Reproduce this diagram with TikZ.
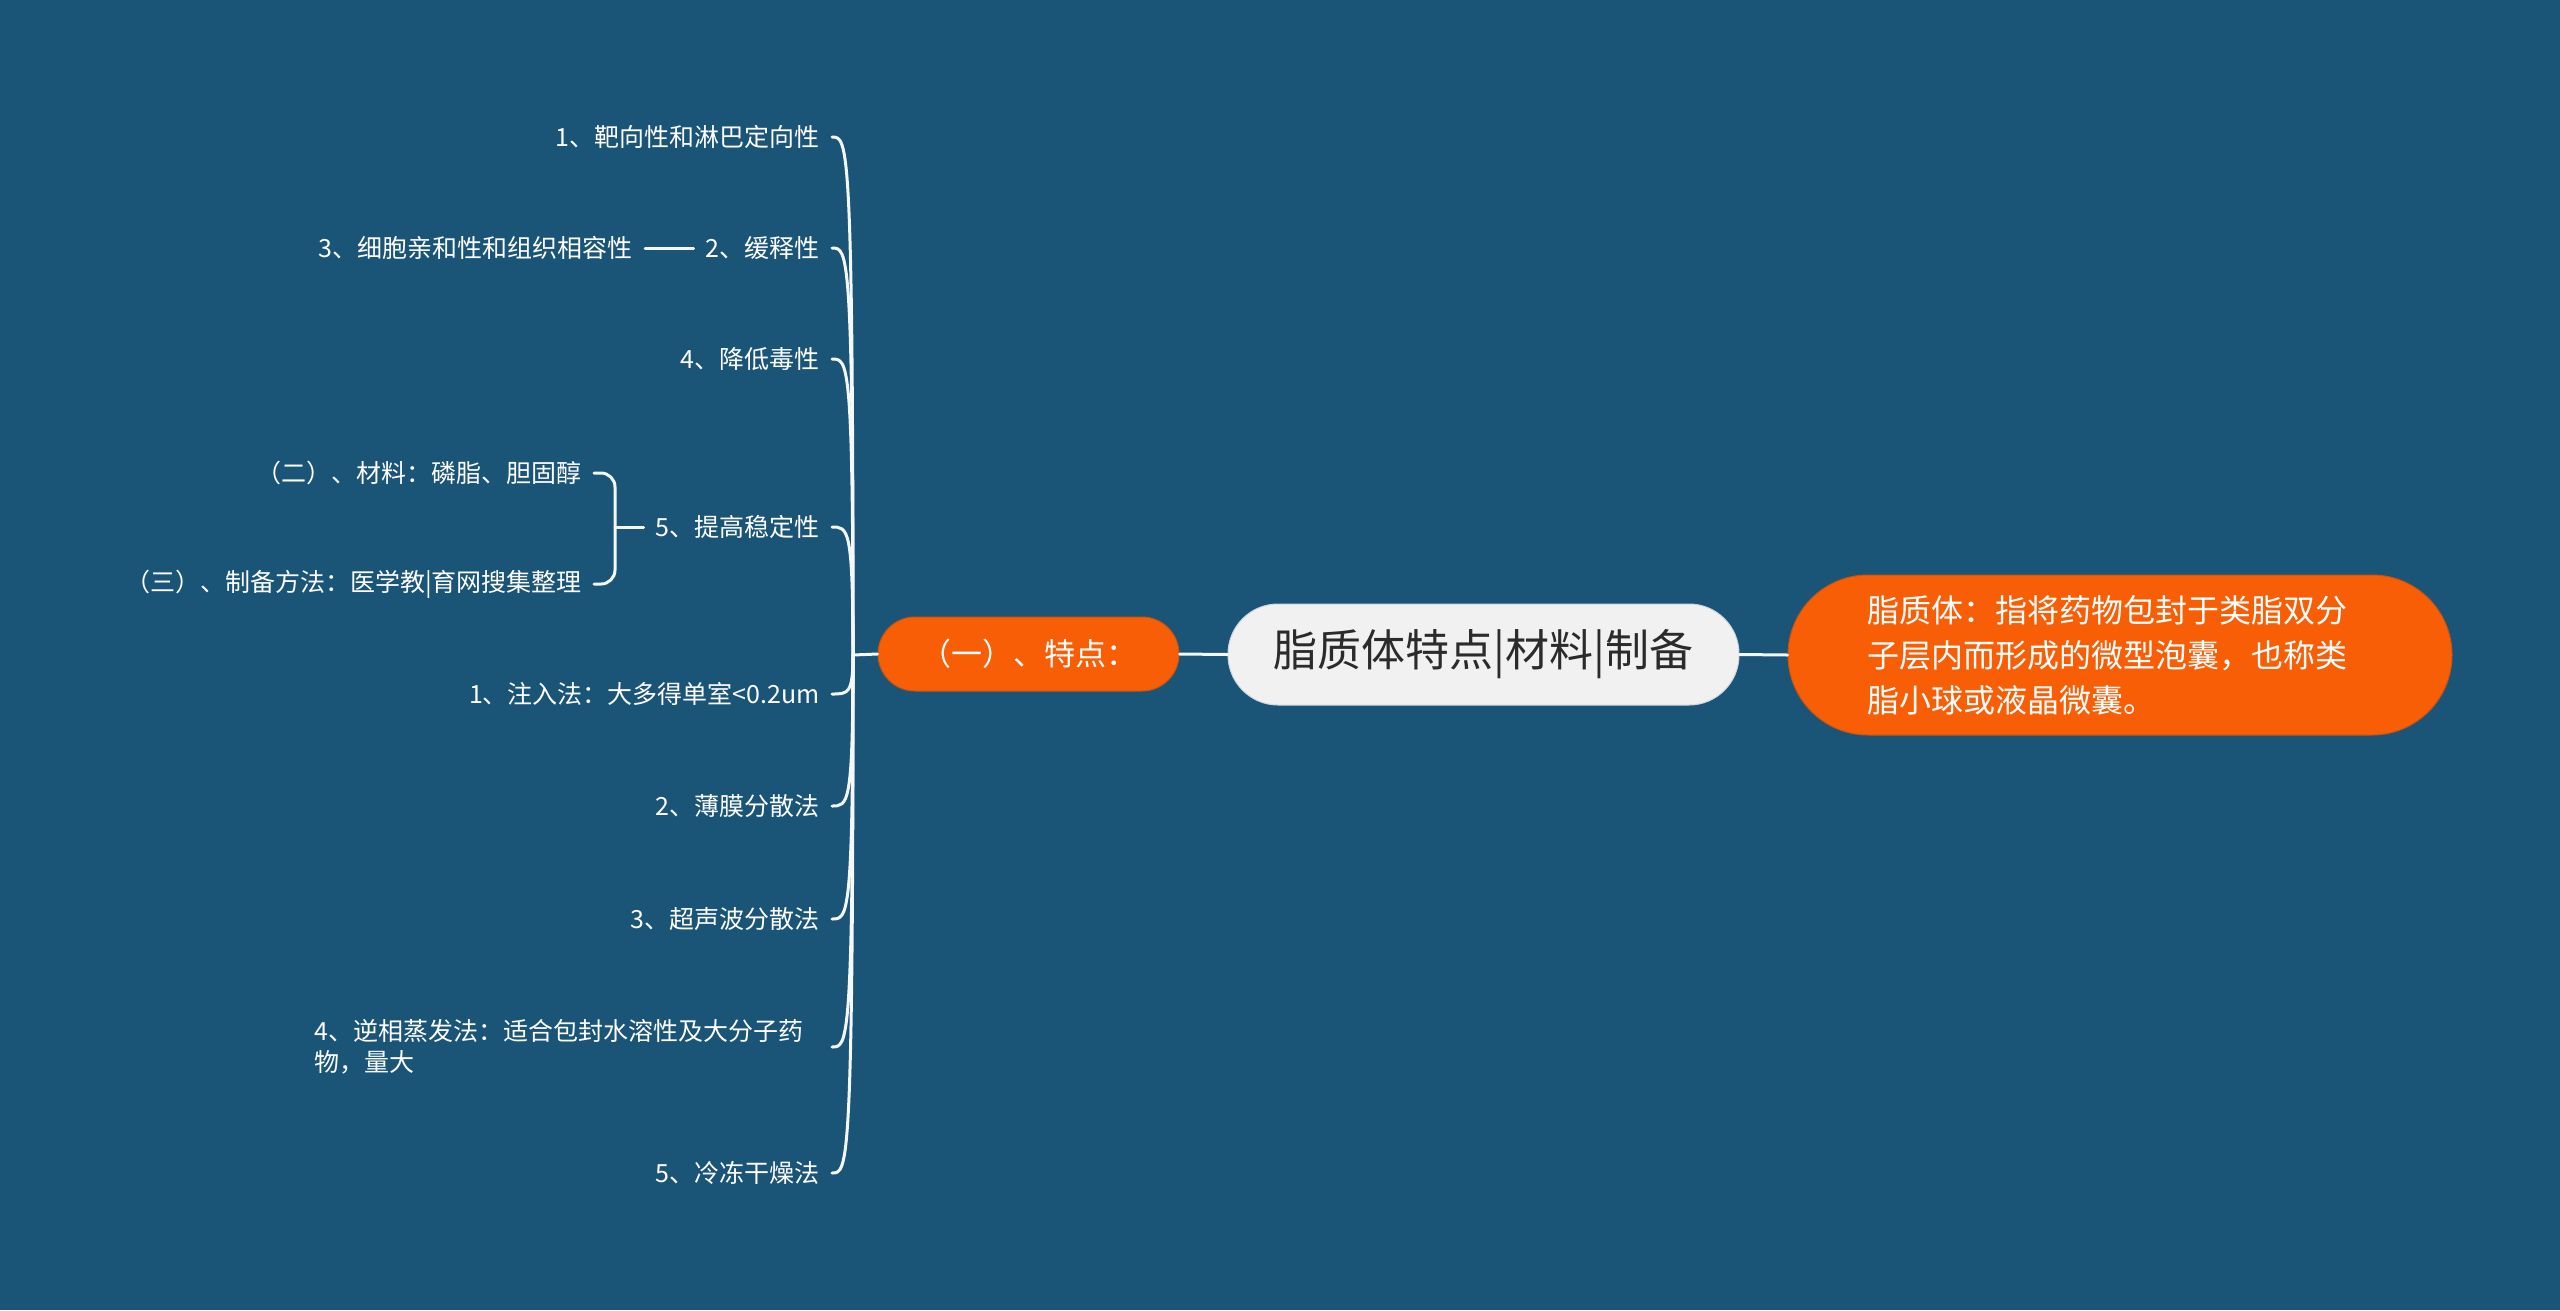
\documentclass[tikz,border=0pt]{standalone}
\usepackage{fontspec}
\setmainfont{Noto Sans CJK SC}
\usetikzlibrary{calc}

\begin{document}
\begin{tikzpicture}[
    x=1pt, y=-1pt,
    line join=round,
    line cap=round,
    branch/.style={line width=3pt, linkwhite},
    leaf/.style={font=\fontsize{25}{31}\selectfont, text=white, anchor=east,
        inner xsep=12pt, inner ysep=4pt, align=left},
    rootnode/.style={fill=paleglass, draw=paleedge, line width=1pt,
        rounded corners=50pt, minimum width=511pt, minimum height=101pt,
        font=\fontsize{44}{52}\selectfont, text=inkgray},
    topic/.style={fill=hotorange, draw=burnedge, line width=1pt,
        rounded corners=37pt, minimum width=301pt, minimum height=74pt,
        font=\fontsize{31}{36}\selectfont, text=white},
    descnode/.style={fill=hotorange, draw=burnedge, line width=1pt,
        rounded corners=80pt, minimum width=664pt, minimum height=160pt,
        text width=505pt, align=left,
        font=\fontsize{32}{45}\selectfont, text=white}
]

% -------------------------------------------------
% Palette
% -------------------------------------------------
\definecolor{bgblue}{HTML}{1A5477}     % page background
\definecolor{linkwhite}{HTML}{F4F8FB}  % connectors
\definecolor{hotorange}{HTML}{F75E06}  % topic fill
\definecolor{burnedge}{HTML}{C9540E}   % topic border
\definecolor{paleglass}{HTML}{F1F1F1}  % root fill
\definecolor{paleedge}{HTML}{D0D6DA}   % root border
\definecolor{inkgray}{HTML}{2B2B2B}    % root text

\useasboundingbox (0,0) rectangle (2560,1310);
\path[fill=bgblue] (0,0) rectangle (2560,1310);

% -------------------------------------------------
% Centre and right side
% -------------------------------------------------
\node[rootnode] (root) at (1483.5,654.5) {脂质体特点|材料|制备};
\node[topic] (one) at (1028.5,654) {（一）、特点：};
\node[descnode] (desc) at (2120,655)
{脂质体：指将药物包封于类脂双分\\子层内而形成的微型泡囊，也称类\\脂小球或液晶微囊。};

\draw[branch] (one.east) -- (root.west);
\draw[branch] (root.east) -- (desc.west);

% -------------------------------------------------
% Left children
% -------------------------------------------------
\coordinate (hub) at (853,655);
\draw[branch] (one.west) -- (hub);

\node[leaf] (c1) at (832,137) {1、靶向性和淋巴定向性};
\node[leaf] (c2) at (832,248) {2、缓释性};
\node[leaf] (c3) at (832,359) {4、降低毒性};
\node[leaf] (c4) at (832,527) {5、提高稳定性};
\node[leaf] (c5) at (832,694) {1、注入法：大多得单室<0.2um};
\node[leaf] (c6) at (832,806) {2、薄膜分散法};
\node[leaf] (c7) at (832,919) {3、超声波分散法};
\node[leaf, text width=505pt] (c8) at (832,1047)
{4、逆相蒸发法：适合包封水溶性及大分子药\\物，量大};
\node[leaf] (c9) at (832,1173) {5、冷冻干燥法};

\foreach \c in {c1,c2,c3,c4,c5,c6,c7,c8,c9} {
    \draw[branch] (hub)
        .. controls (hub |- \c.east) and ($(hub |- \c.east)+(-5,0)$) ..
        (\c.east);
}

% Side note of 2
\node[leaf] (n3) at (645,248) {3、细胞亲和性和组织相容性};
\draw[branch] (c2.west) -- (n3.east);

% Bracket of 5
\node[leaf] (s1) at (594,473) {（二）、材料：磷脂、胆固醇};
\node[leaf] (s2) at (594,584) {（三）、制备方法：医学教|育网搜集整理};
\coordinate (brk) at (615,527);
\draw[branch, rounded corners=14pt] (s1.east) -| (brk) |- (s2.east);
\draw[branch] (brk) -- (c4.west);

\end{tikzpicture}
\end{document}
